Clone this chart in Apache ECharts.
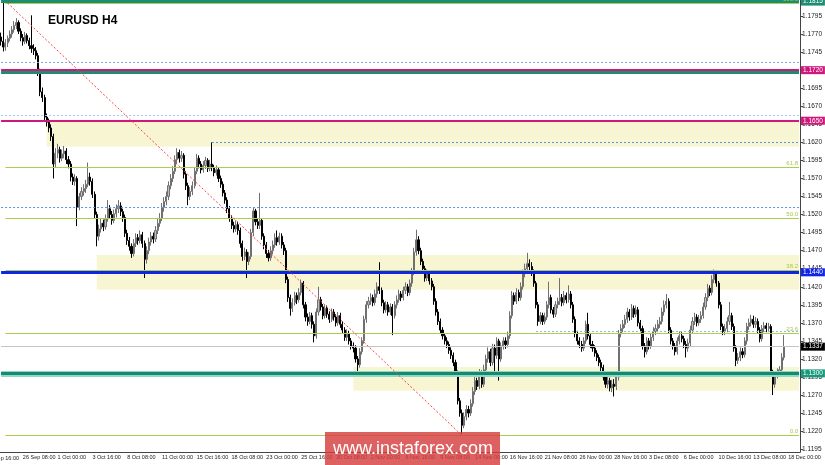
<!DOCTYPE html>
<html>
<head>
<meta charset="utf-8">
<script src="https://cdn.jsdelivr.net/npm/echarts@6/dist/echarts.min.js"></script>
<style>
html, body { margin: 0; padding: 0; background: #fff; }
#main { width: 825px; height: 465px; }
</style>
</head>
<body>
<div id="main"></div>
<script>
// H4 candles, [open, close, low, high]
var bars = [
  [1.1766,1.1760,1.1754,1.1772],[1.1760,1.1752,1.1746,1.1815],[1.1752,1.1758,1.1747,1.1763],[1.1758,1.1764,1.1752,1.1768],
  [1.1764,1.1770,1.1760,1.1775],[1.1770,1.1776,1.1765,1.1781],[1.1776,1.1782,1.1772,1.1788],[1.1782,1.1786,1.1777,1.1792],
  [1.1786,1.1774,1.1770,1.1789],[1.1774,1.1765,1.1760,1.1778],[1.1765,1.1760,1.1754,1.1770],[1.1760,1.1768,1.1756,1.1773],
  [1.1768,1.1761,1.1757,1.1771],[1.1761,1.1754,1.1749,1.1765],[1.1754,1.1750,1.1744,1.1796],[1.1750,1.1747,1.1741,1.1756],
  [1.1747,1.1740,1.1735,1.1752],[1.1740,1.1718,1.1712,1.1744],[1.1718,1.1690,1.1684,1.1722],[1.1690,1.1682,1.1676,1.1696],
  [1.1682,1.1655,1.1650,1.1686],[1.1655,1.1648,1.1642,1.1660],[1.1648,1.1640,1.1634,1.1653],[1.1640,1.1628,1.1622,1.1645],
  [1.1628,1.1590,1.1570,1.1632],[1.1590,1.1605,1.1585,1.1612],[1.1605,1.1610,1.1598,1.1618],[1.1610,1.1598,1.1592,1.1614],
  [1.1598,1.1604,1.1594,1.1610],[1.1604,1.1608,1.1598,1.1615],[1.1608,1.1596,1.1590,1.1612],[1.1596,1.1590,1.1584,1.1601],
  [1.1590,1.1572,1.1566,1.1594],[1.1572,1.1566,1.1561,1.1577],[1.1566,1.1570,1.1560,1.1576],[1.1570,1.1530,1.1504,1.1573],
  [1.1530,1.1545,1.1526,1.1550],[1.1545,1.1552,1.1540,1.1558],[1.1552,1.1556,1.1546,1.1562],[1.1556,1.1562,1.1550,1.1568],
  [1.1562,1.1572,1.1558,1.1592],[1.1572,1.1566,1.1560,1.1578],[1.1566,1.1548,1.1543,1.1570],[1.1548,1.1520,1.1515,1.1552],
  [1.1520,1.1490,1.1476,1.1524],[1.1490,1.1500,1.1484,1.1506],[1.1500,1.1508,1.1495,1.1514],[1.1508,1.1503,1.1497,1.1513],
  [1.1503,1.1514,1.1499,1.1520],[1.1514,1.1528,1.1510,1.1540],[1.1528,1.1520,1.1514,1.1533],[1.1520,1.1512,1.1506,1.1525],
  [1.1512,1.1521,1.1508,1.1527],[1.1521,1.1528,1.1516,1.1534],[1.1528,1.1532,1.1522,1.1540],[1.1532,1.1524,1.1518,1.1537],
  [1.1524,1.1516,1.1510,1.1528],[1.1516,1.1494,1.1489,1.1520],[1.1494,1.1484,1.1478,1.1499],[1.1484,1.1476,1.1470,1.1489],
  [1.1476,1.1466,1.1460,1.1480],[1.1466,1.1480,1.1462,1.1486],[1.1480,1.1488,1.1475,1.1494],[1.1488,1.1484,1.1478,1.1493],
  [1.1484,1.1492,1.1480,1.1498],[1.1492,1.1480,1.1474,1.1496],[1.1480,1.1458,1.1432,1.1484],[1.1458,1.1470,1.1452,1.1476],
  [1.1470,1.1482,1.1465,1.1488],[1.1482,1.1490,1.1477,1.1496],[1.1490,1.1486,1.1480,1.1495],[1.1486,1.1498,1.1482,1.1504],
  [1.1498,1.1508,1.1493,1.1514],[1.1508,1.1515,1.1503,1.1522],[1.1515,1.1530,1.1511,1.1536],[1.1530,1.1538,1.1524,1.1544],
  [1.1538,1.1545,1.1533,1.1552],[1.1545,1.1560,1.1540,1.1566],[1.1560,1.1570,1.1555,1.1576],[1.1570,1.1580,1.1565,1.1587],
  [1.1580,1.1596,1.1576,1.1602],[1.1596,1.1606,1.1590,1.1612],[1.1606,1.1598,1.1592,1.1610],[1.1598,1.1602,1.1593,1.1608],
  [1.1602,1.1576,1.1570,1.1605],[1.1576,1.1560,1.1554,1.1580],[1.1560,1.1545,1.1533,1.1564],[1.1545,1.1552,1.1540,1.1558],
  [1.1552,1.1560,1.1547,1.1566],[1.1560,1.1580,1.1556,1.1586],[1.1580,1.1598,1.1576,1.1604],[1.1598,1.1590,1.1584,1.1602],
  [1.1590,1.1582,1.1577,1.1594],[1.1582,1.1588,1.1578,1.1594],[1.1588,1.1595,1.1583,1.1600],[1.1595,1.1584,1.1579,1.1598],
  [1.1584,1.1590,1.1580,1.1596],[1.1590,1.1585,1.1580,1.1620],[1.1585,1.1578,1.1573,1.1589],[1.1578,1.1582,1.1574,1.1588],
  [1.1582,1.1570,1.1565,1.1585],[1.1570,1.1562,1.1557,1.1574],[1.1562,1.1550,1.1545,1.1566],[1.1550,1.1540,1.1535,1.1554],
  [1.1540,1.1528,1.1522,1.1544],[1.1528,1.1515,1.1510,1.1532],[1.1515,1.1505,1.1500,1.1519],[1.1505,1.1500,1.1495,1.1510],
  [1.1500,1.1506,1.1496,1.1512],[1.1506,1.1498,1.1492,1.1510],[1.1498,1.1480,1.1474,1.1502],[1.1480,1.1462,1.1456,1.1484],
  [1.1462,1.1468,1.1457,1.1474],[1.1468,1.1455,1.1432,1.1472],[1.1455,1.1462,1.1450,1.1468],[1.1462,1.1495,1.1458,1.1500],
  [1.1495,1.1525,1.1490,1.1530],[1.1525,1.1510,1.1505,1.1528],[1.1510,1.1505,1.1500,1.1515],[1.1505,1.1512,1.1500,1.1550],
  [1.1512,1.1490,1.1485,1.1515],[1.1490,1.1478,1.1472,1.1494],[1.1478,1.1466,1.1460,1.1482],[1.1466,1.1460,1.1455,1.1471],
  [1.1460,1.1470,1.1456,1.1476],[1.1470,1.1478,1.1465,1.1484],[1.1478,1.1488,1.1474,1.1494],[1.1488,1.1482,1.1477,1.1498],
  [1.1482,1.1490,1.1478,1.1495],[1.1490,1.1478,1.1473,1.1494],[1.1478,1.1470,1.1464,1.1482],[1.1470,1.1430,1.1425,1.1474],
  [1.1430,1.1405,1.1399,1.1434],[1.1405,1.1390,1.1380,1.1409],[1.1390,1.1398,1.1385,1.1404],[1.1398,1.1408,1.1394,1.1413],
  [1.1408,1.1402,1.1396,1.1412],[1.1402,1.1412,1.1398,1.1418],[1.1412,1.1425,1.1408,1.1430],[1.1425,1.1395,1.1390,1.1428],
  [1.1395,1.1378,1.1372,1.1399],[1.1378,1.1372,1.1366,1.1383],[1.1372,1.1380,1.1368,1.1385],[1.1380,1.1368,1.1362,1.1384],
  [1.1368,1.1352,1.1343,1.1372],[1.1352,1.1385,1.1348,1.1390],[1.1385,1.1402,1.1380,1.1420],[1.1402,1.1392,1.1387,1.1406],
  [1.1392,1.1380,1.1375,1.1396],[1.1380,1.1390,1.1376,1.1395],[1.1390,1.1382,1.1377,1.1394],[1.1382,1.1375,1.1370,1.1386],
  [1.1375,1.1385,1.1371,1.1390],[1.1385,1.1378,1.1373,1.1389],[1.1378,1.1370,1.1365,1.1382],[1.1370,1.1380,1.1366,1.1385],
  [1.1380,1.1368,1.1363,1.1384],[1.1368,1.1360,1.1355,1.1372],[1.1360,1.1350,1.1345,1.1364],[1.1350,1.1355,1.1345,1.1361],
  [1.1355,1.1345,1.1340,1.1359],[1.1345,1.1338,1.1333,1.1349],[1.1338,1.1335,1.1329,1.1343],[1.1335,1.1320,1.1315,1.1339],
  [1.1320,1.1312,1.1302,1.1324],[1.1312,1.1330,1.1308,1.1335],[1.1330,1.1345,1.1326,1.1350],[1.1345,1.1375,1.1341,1.1380],
  [1.1375,1.1395,1.1370,1.1400],[1.1395,1.1400,1.1390,1.1406],[1.1400,1.1405,1.1395,1.1411],[1.1405,1.1398,1.1393,1.1409],
  [1.1398,1.1410,1.1394,1.1416],[1.1410,1.1420,1.1405,1.1426],[1.1420,1.1415,1.1410,1.1454],[1.1415,1.1398,1.1393,1.1419],
  [1.1398,1.1388,1.1383,1.1402],[1.1388,1.1395,1.1384,1.1400],[1.1395,1.1385,1.1380,1.1399],[1.1385,1.1392,1.1381,1.1397],
  [1.1392,1.1380,1.1353,1.1396],[1.1380,1.1395,1.1376,1.1400],[1.1395,1.1402,1.1390,1.1408],[1.1402,1.1410,1.1398,1.1416],
  [1.1410,1.1405,1.1400,1.1414],[1.1405,1.1415,1.1401,1.1420],[1.1415,1.1420,1.1410,1.1426],[1.1420,1.1412,1.1407,1.1424],
  [1.1412,1.1425,1.1408,1.1430],[1.1425,1.1440,1.1420,1.1446],[1.1440,1.1468,1.1436,1.1474],[1.1468,1.1485,1.1463,1.1499],
  [1.1485,1.1470,1.1465,1.1490],[1.1470,1.1455,1.1450,1.1474],[1.1455,1.1445,1.1440,1.1459],[1.1445,1.1432,1.1427,1.1449],
  [1.1432,1.1438,1.1428,1.1444],[1.1438,1.1428,1.1423,1.1442],[1.1428,1.1420,1.1415,1.1432],[1.1420,1.1400,1.1395,1.1424],
  [1.1400,1.1385,1.1380,1.1404],[1.1385,1.1372,1.1367,1.1389],[1.1372,1.1360,1.1355,1.1376],[1.1360,1.1352,1.1347,1.1364],
  [1.1352,1.1345,1.1340,1.1356],[1.1345,1.1340,1.1335,1.1350],[1.1340,1.1332,1.1327,1.1344],[1.1332,1.1325,1.1320,1.1336],
  [1.1325,1.1315,1.1310,1.1329],[1.1315,1.1300,1.1295,1.1319],[1.1300,1.1262,1.1257,1.1304],[1.1262,1.1245,1.1240,1.1266],
  [1.1245,1.1228,1.1216,1.1250],[1.1228,1.1240,1.1224,1.1246],[1.1240,1.1250,1.1235,1.1256],[1.1250,1.1245,1.1239,1.1255],
  [1.1245,1.1258,1.1241,1.1264],[1.1258,1.1275,1.1254,1.1281],[1.1275,1.1290,1.1270,1.1296],[1.1290,1.1282,1.1277,1.1294],
  [1.1282,1.1300,1.1278,1.1306],[1.1300,1.1285,1.1280,1.1304],[1.1285,1.1305,1.1281,1.1312],[1.1305,1.1320,1.1300,1.1326],
  [1.1320,1.1330,1.1315,1.1336],[1.1330,1.1315,1.1310,1.1334],[1.1315,1.1335,1.1311,1.1341],[1.1335,1.1325,1.1300,1.1340],
  [1.1325,1.1345,1.1320,1.1350],[1.1345,1.1320,1.1290,1.1348],[1.1320,1.1338,1.1316,1.1343],[1.1338,1.1345,1.1333,1.1350],
  [1.1345,1.1340,1.1334,1.1350],[1.1340,1.1352,1.1336,1.1358],[1.1352,1.1380,1.1348,1.1386],[1.1380,1.1408,1.1376,1.1414],
  [1.1408,1.1400,1.1395,1.1412],[1.1400,1.1412,1.1396,1.1418],[1.1412,1.1405,1.1400,1.1416],[1.1405,1.1420,1.1401,1.1426],
  [1.1420,1.1438,1.1416,1.1444],[1.1438,1.1445,1.1433,1.1452],[1.1445,1.1452,1.1440,1.1467],[1.1452,1.1448,1.1442,1.1458],
  [1.1448,1.1440,1.1435,1.1454],[1.1440,1.1425,1.1420,1.1444],[1.1425,1.1395,1.1390,1.1428],[1.1395,1.1372,1.1366,1.1399],
  [1.1372,1.1380,1.1368,1.1385],[1.1380,1.1372,1.1367,1.1384],[1.1372,1.1378,1.1368,1.1384],[1.1378,1.1395,1.1374,1.1400],
  [1.1395,1.1405,1.1390,1.1427],[1.1405,1.1388,1.1383,1.1409],[1.1388,1.1382,1.1377,1.1392],[1.1382,1.1395,1.1378,1.1400],
  [1.1395,1.1400,1.1390,1.1405],[1.1400,1.1405,1.1395,1.1432],[1.1405,1.1398,1.1393,1.1410],[1.1398,1.1408,1.1394,1.1414],
  [1.1408,1.1402,1.1397,1.1412],[1.1402,1.1410,1.1398,1.1422],[1.1410,1.1395,1.1390,1.1414],[1.1395,1.1375,1.1370,1.1399],
  [1.1375,1.1355,1.1350,1.1379],[1.1355,1.1345,1.1340,1.1359],[1.1345,1.1340,1.1335,1.1350],[1.1340,1.1335,1.1330,1.1345],
  [1.1335,1.1345,1.1331,1.1350],[1.1345,1.1368,1.1341,1.1373],[1.1368,1.1352,1.1347,1.1384],[1.1352,1.1340,1.1335,1.1356],
  [1.1340,1.1335,1.1330,1.1345],[1.1335,1.1328,1.1323,1.1339],[1.1328,1.1322,1.1317,1.1332],[1.1322,1.1315,1.1310,1.1326],
  [1.1315,1.1308,1.1303,1.1319],[1.1308,1.1295,1.1290,1.1312],[1.1295,1.1285,1.1280,1.1299],[1.1285,1.1290,1.1279,1.1296],
  [1.1290,1.1280,1.1275,1.1294],[1.1280,1.1285,1.1274,1.1291],[1.1285,1.1282,1.1268,1.1292],[1.1282,1.1295,1.1277,1.1300],
  [1.1295,1.1355,1.1290,1.1360],[1.1355,1.1362,1.1350,1.1368],[1.1362,1.1368,1.1357,1.1374],[1.1368,1.1375,1.1363,1.1381],
  [1.1375,1.1385,1.1370,1.1391],[1.1385,1.1378,1.1373,1.1389],[1.1378,1.1390,1.1374,1.1396],[1.1390,1.1382,1.1377,1.1394],
  [1.1382,1.1388,1.1378,1.1394],[1.1388,1.1370,1.1365,1.1392],[1.1370,1.1362,1.1357,1.1374],[1.1362,1.1338,1.1333,1.1366],
  [1.1338,1.1330,1.1322,1.1342],[1.1330,1.1345,1.1326,1.1350],[1.1345,1.1338,1.1333,1.1349],[1.1338,1.1350,1.1334,1.1356],
  [1.1350,1.1358,1.1345,1.1364],[1.1358,1.1362,1.1353,1.1368],[1.1362,1.1368,1.1357,1.1374],[1.1368,1.1372,1.1363,1.1378],
  [1.1372,1.1385,1.1368,1.1391],[1.1385,1.1395,1.1380,1.1401],[1.1395,1.1400,1.1390,1.1410],[1.1400,1.1360,1.1355,1.1404],
  [1.1360,1.1345,1.1340,1.1364],[1.1345,1.1338,1.1333,1.1349],[1.1338,1.1330,1.1325,1.1342],[1.1330,1.1345,1.1326,1.1350],
  [1.1345,1.1352,1.1340,1.1358],[1.1352,1.1348,1.1343,1.1357],[1.1348,1.1340,1.1335,1.1352],[1.1340,1.1335,1.1322,1.1345],
  [1.1335,1.1342,1.1330,1.1348],[1.1342,1.1360,1.1338,1.1366],[1.1360,1.1372,1.1355,1.1378],[1.1372,1.1378,1.1367,1.1384],
  [1.1378,1.1370,1.1365,1.1382],[1.1370,1.1375,1.1366,1.1381],[1.1375,1.1380,1.1370,1.1386],[1.1380,1.1392,1.1376,1.1398],
  [1.1392,1.1405,1.1388,1.1411],[1.1405,1.1418,1.1400,1.1424],[1.1418,1.1412,1.1407,1.1422],[1.1412,1.1430,1.1408,1.1436],
  [1.1430,1.1440,1.1425,1.1444],[1.1440,1.1425,1.1420,1.1443],[1.1425,1.1395,1.1390,1.1428],[1.1395,1.1365,1.1360,1.1399],
  [1.1365,1.1358,1.1353,1.1369],[1.1358,1.1362,1.1353,1.1368],[1.1362,1.1372,1.1357,1.1378],[1.1372,1.1380,1.1367,1.1399],
  [1.1380,1.1365,1.1360,1.1384],[1.1365,1.1335,1.1330,1.1369],[1.1335,1.1318,1.1310,1.1339],[1.1318,1.1322,1.1313,1.1328],
  [1.1322,1.1330,1.1317,1.1336],[1.1330,1.1326,1.1321,1.1335],[1.1326,1.1345,1.1322,1.1350],[1.1345,1.1365,1.1340,1.1370],
  [1.1365,1.1370,1.1360,1.1376],[1.1370,1.1375,1.1365,1.1381],[1.1375,1.1368,1.1363,1.1380],[1.1368,1.1372,1.1363,1.1378],
  [1.1372,1.1360,1.1355,1.1376],[1.1360,1.1348,1.1343,1.1364],[1.1348,1.1362,1.1344,1.1367],[1.1362,1.1366,1.1357,1.1371],
  [1.1366,1.1362,1.1357,1.1370],[1.1362,1.1365,1.1357,1.1370],[1.1365,1.1300,1.1295,1.1368],[1.1300,1.1285,1.1270,1.1305],
  [1.1285,1.1298,1.1280,1.1303],[1.1298,1.1302,1.1293,1.1307],[1.1302,1.1305,1.1297,1.1310],[1.1305,1.1322,1.1300,1.1328],
  [1.1322,1.1337,1.1318,1.1353]
]

var yTicks = [1.1195, 1.1220, 1.1245, 1.1270, 1.1295, 1.1320, 1.1345, 1.1370, 1.1395, 1.1420, 1.1445, 1.1470, 1.1495,
  1.1520, 1.1545, 1.1570, 1.1595, 1.1620, 1.1645, 1.1670, 1.1695, 1.1720, 1.1745, 1.1770, 1.1795]

// fibonacci retracement from the Sep high to the Nov low
var fibLevels = [1.1813, 1.1586, 1.1515, 1.1443, 1.1355, 1.1214]
var fibNames = ['100.0', '61.8', '50.0', '38.2', '23.6', '0.0']

// yellow zones: [start bar, top, bottom]
var zones = [[21, 1.1650, 1.1614], [44, 1.1464, 1.1416], [162, 1.1309, 1.1276]]

var slots = 368 // bars + empty space on the right
var lastSlot = slots - 1

// category labels (H4, weekdays only)
var months = ['Jan', 'Feb', 'Mar', 'Apr', 'May', 'Jun', 'Jul', 'Aug', 'Sep', 'Oct', 'Nov', 'Dec']
var cats = []
var t = Date.UTC(2018, 8, 24, 16)
while (cats.length < slots) {
  var d = new Date(t)
  var wd = d.getUTCDay()
  if (wd !== 0 && wd !== 6) {
    var h = d.getUTCHours()
    cats.push(d.getUTCDate() + ' ' + months[d.getUTCMonth()] + ' ' + (h < 10 ? '0' + h : h) + ':00')
  }
  t += 4 * 3600 * 1000
}
function showTick (idx) { return idx % 16 === 10 }

var tag = function (text, bg) {
  return {
    show: true, position: 'end', formatter: text, distance: 2,
    color: '#fff', backgroundColor: bg, fontSize: 6.5, fontFamily: 'Liberation Sans',
    padding: [1, 2, 0, 2]
  }
}
var noLabel = { show: false }

// horizontal line from bar `from` to the last slot
function hline (v, color, width, type, label, from) {
  return [
    { coord: [from || 0, v], lineStyle: { color: color, width: width, type: type }, label: label || noLabel },
    { coord: [lastSlot, v] }
  ]
}

var areaData = zones.map(function (z) {
  return [{ coord: [z[0], z[1]] }, { coord: [lastSlot, z[2]] }]
})

var fibLines = fibLevels.map(function (v, k) {
  return hline(v, '#a8cf4e', 1, 'solid',
    { show: true, position: 'insideEndTop', formatter: fibNames[k], color: '#a8c84a', fontSize: 6, distance: 1 }, 2)
})

var overLines = [
  hline(1.1815, '#1c8d72', 3, 'solid', tag('1.1815', '#1c8d72')),
  hline(1.1731, '#7fa6d6', 1, [2, 2]),
  hline(1.1717, '#1c8d72', 3, 'solid'),
  hline(1.1720, '#d0187c', 2, 'solid', tag('1.1720', '#d0187c')),
  hline(1.1658, '#a9c9ef', 1, [2, 2]),
  hline(1.1650, '#d0187c', 2, 'solid', tag('1.1650', '#d0187c')),
  hline(1.1620, '#5b95db', 1, [2, 2], null, 97),
  hline(1.1530, '#5b95db', 1, [2, 2]),
  hline(1.1440, '#1024e8', 3, 'solid', tag('1.1440', '#1024e8')),
  hline(1.1359, '#8ab8ec', 1, [2, 2], null, 246),
  hline(1.1337, '#c4c4c4', 1, 'solid', tag('1.1337', '#000')),
  hline(1.1300, '#8fd8c8', 6, 'solid'),
  hline(1.1300, '#148a70', 3, 'solid', tag('1.1300', '#179a7c')),
  // trend line used for the fibonacci grid
  [{ coord: [3, 1.1813], lineStyle: { color: '#ff4040', width: 1, type: [2, 2] }, label: noLabel }, { coord: [212, 1.1214] }]
]

var chart = echarts.init(document.getElementById('main'))
chart.setOption({
  animation: false,
  backgroundColor: '#fff',
  title: {
    text: 'EURUSD H4', left: 43, top: 10,
    textStyle: { fontSize: 12, fontWeight: 'bold', color: '#000', fontFamily: 'Liberation Sans' }
  },
  grid: { left: 0, right: 20, top: 0, bottom: 13 },
  xAxis: {
    type: 'category', data: cats, boundaryGap: true,
    axisLine: { lineStyle: { color: '#444' } },
    axisTick: { interval: showTick, alignWithLabel: true, length: 3, lineStyle: { color: '#444' } },
    axisLabel: { interval: showTick, align: 'left', fontSize: 5.5, color: '#222', margin: 2, fontFamily: 'Liberation Sans' },
    splitLine: { show: false }
  },
  yAxis: {
    type: 'value', position: 'right', min: 1.11911, max: 1.18172,
    axisLine: { show: true, lineStyle: { color: '#444' } },
    axisTick: { show: true, customValues: yTicks, length: 3, lineStyle: { color: '#444' } },
    axisLabel: {
      customValues: yTicks, fontSize: 6.5, color: '#222', margin: 2, fontFamily: 'Liberation Sans',
      formatter: function (v) { return v.toFixed(4) }
    },
    splitLine: { show: false }
  },
  series: [
    {
      type: 'line', data: [], z: 1, silent: true,
      markArea: { silent: true, itemStyle: { color: '#f8f6d2' }, data: areaData },
      markLine: { silent: true, symbol: 'none', data: fibLines }
    },
    {
      type: 'candlestick', data: bars, z: 2, barWidth: 1.6,
      itemStyle: { color: '#bdbdbd', color0: '#000', borderColor: '#707070', borderColor0: '#000', borderWidth: 1 }
    },
    {
      type: 'line', data: [], z: 3, silent: true,
      markLine: { silent: true, symbol: 'none', data: overLines }
    }
  ],
  graphic: [
    { type: 'text', x: 19, y: 458, z: 50,
      style: { text: '21 Sep 16:00', align: 'right', verticalAlign: 'middle', fill: '#222', font: '5.5px "Liberation Sans"' } },
    { type: 'rect', x: 325, y: 432, z: 100, shape: { width: 175, height: 33 }, style: { fill: 'rgba(214,62,62,0.82)' } },
    { type: 'text', x: 413, y: 449, z: 101,
      style: { text: 'www.instaforex.com', align: 'center', verticalAlign: 'middle', fill: '#fff', font: '18px "Liberation Sans"' } }
  ]
})
</script>
</body>
</html>
